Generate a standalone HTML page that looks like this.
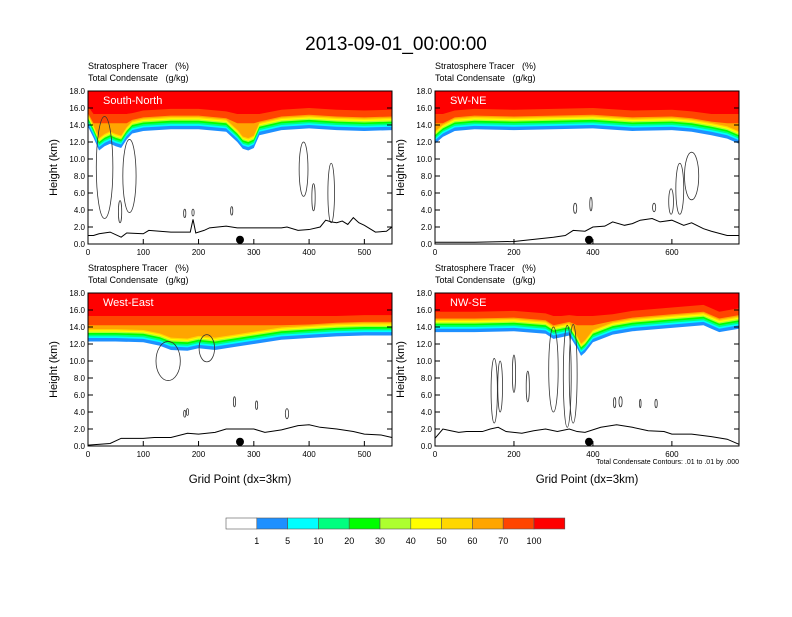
<!DOCTYPE html>
<html><head><meta charset="utf-8"><style>
body{margin:0;background:#fff;width:792px;height:612px;overflow:hidden;font-family:"Liberation Sans",sans-serif}
svg text{font-family:"Liberation Sans",sans-serif;white-space:pre}
</style></head><body>
<svg id="s" width="792" height="612" xmlns="http://www.w3.org/2000/svg">
<text x="396" y="50" font-size="19" text-anchor="middle">2013-09-01_00:00:00</text>
</svg>
<script>
// ---- data ----
const colors=["#ffffff","#1e90ff","#00ffff","#00ff7f","#00ff00","#adff2f","#ffff00","#ffd700","#ffa500","#ff4500","#ff0000"];
const cbLabels=["1","5","10","20","30","40","50","60","70","100"];
const titles=["South-North","SW-NE","West-East","NW-SE"];
const xMax=[550,770,550,770];
const xTicksA=[0,100,200,300,400,500];
const xTicksB=[0,200,400,600];
const yTicks=[0,2,4,6,8,10,12,14,16,18];
const gridA=[0,10,20,30,40,50,60,70,80,100,150,200,250,270,280,290,300,310,350,400,450,500,550];
const baseA=[13.8,12.5,11,11.5,11.8,11.5,11.3,12.3,13,13.3,13.5,13.5,13.2,12,11.2,11,11.3,12.8,13.4,13.6,13.4,13.3,13.4];
const gridB=[0,20,50,100,200,300,400,500,600,650,700,740,770];
const baseB=[11.8,12.6,13.3,13.5,13.4,13.5,13.6,13.3,13.4,13.2,12.8,12.4,11.8];
const gridC=[0,50,100,130,150,180,200,230,260,300,350,400,450,500,550];
const baseC=[12.3,12.3,12.2,11.8,11.3,11.2,11.5,11.3,11.6,12,12.5,12.7,12.9,13,13];
const gridD=[0,100,200,280,300,320,340,360,370,380,400,450,500,600,680,700,720,770];
const baseD=[13.4,13.4,13.5,13.2,12.6,12.8,13,11.5,10.6,11,12.2,13.1,13.5,13.9,14.2,13.8,13.4,13.8];
const terrA=[[0,1],[10,1],[20,1.2],[40,1.4],[60,0.8],[70,1.3],[100,1.2],[110,1.6],[150,1.4],[185,1.4],[190,2.9],[195,1.3],[210,1.6],[220,1.9],[250,2.1],[270,1.9],[300,1.9],[350,1.9],[360,2],[380,1.6],[400,1.7],[420,2],[430,2.8],[440,2.6],[450,2.5],[460,2.7],[470,2.3],[480,3.1],[490,2.5],[500,2.2],[520,1.4],[540,1.5],[550,2]];
const terrB=[[0,0.2],[100,0.2],[200,0.3],[300,0.8],[330,1],[350,1.6],[380,1.5],[400,2],[430,2.1],[450,2.6],[480,2.2],[500,2.4],[520,2.8],[550,3],[570,2.6],[600,2.8],[630,2.2],[650,2.5],[680,1.8],[700,1.5],[740,1],[770,1]];
const terrC=[[0,0.1],[40,0.3],[60,0.9],[100,0.9],[120,1],[150,1],[180,1.5],[200,1.4],[230,1.6],[250,2],[300,2],[320,1.6],[350,1.9],[380,2.4],[400,2.5],[420,2.2],[450,2],[480,1.7],[500,1.4],[530,1.3],[550,1]];
const terrD=[[0,0.9],[20,2],[40,1.8],[60,1.6],[80,1.7],[120,1.7],[140,2],[160,2.2],[180,1.7],[220,1.5],[250,1.8],[280,2],[310,1.7],[340,2],[360,1.7],[380,1.6],[420,2.2],[460,2.5],[500,2.2],[540,1.8],[580,1.7],[600,1.4],[650,1.4],[700,1.1],[740,0.8],[770,0.2]];
const dotX=[275,390,275,390];
const contP=[0,0,0,0,0,0,0,0,0,1,1,1,1,1,1,2,2,2,2,2,2,2,3,3,3,3,3,3,3,3,3,3,3];
const contX=[30,75,58,175,190,260,390,408,440,650,620,598,555,355,395,145,215,175,180,265,360,305,150,165,200,235,300,335,350,455,470,520,560];
const contZ=[9,8,3.8,3.6,3.7,3.9,8.8,5.5,6,8,6.5,5,4.3,4.2,4.7,10,11.5,3.8,4,5.2,3.8,4.8,6.5,7,8.5,7,9,8.2,8.5,5.1,5.2,5,5];
const contW=[15,12,3,2,2,2,8,3,6,18,10,6,4,4,3,22,14,2,2,2,3,2,8,6,4,4,12,10,10,3,4,2,3];
const contH=[6,4.3,1.3,0.5,0.4,0.5,3.2,1.6,3.5,2.8,3,1.5,0.5,0.6,0.8,2.3,1.6,0.4,0.4,0.6,0.6,0.5,3.8,3,2.2,1.8,5,6,5.8,0.6,0.6,0.5,0.5];
// ---- layout ----
const panels=[{x0:88,y0:91,grid:gridA,base:baseA,terr:terrA,ticks:xTicksA},
 {x0:435,y0:91,grid:gridB,base:baseB,terr:terrB,ticks:xTicksB},
 {x0:88,y0:293,grid:gridC,base:baseC,terr:terrC,ticks:xTicksA},
 {x0:435,y0:293,grid:gridD,base:baseD,terr:terrD,ticks:xTicksB}];
const W=304,H=153,NS="http://www.w3.org/2000/svg",svg=document.getElementById('s');
const offs=[0,0.4,0.6,0.8,1.0,1.15,1.3,1.45,1.6,2.4];
const floors=[0,0,0,0,0,0,0,0,14.2,15.3];
function mk(t,a,p){const e=document.createElementNS(NS,t);for(const k in a)e.setAttribute(k,a[k]);(p||svg).appendChild(e);return e;}
panels.forEach((P,i)=>{
 const g=mk('g',{});
 
 
 const sx=v=>P.x0+v/xMax[i]*W, sy=v=>P.y0+H-v/18*H;
 mk('text',{x:P.x0,y:P.y0-22,'font-size':9},g).textContent="Stratosphere Tracer   (%)";
 mk('text',{x:P.x0,y:P.y0-10,'font-size':9},g).textContent="Total Condensate   (g/kg)";
 mk('rect',{x:P.x0,y:P.y0,width:W,height:H,fill:'#fff'},g);
 for(let b=0;b<offs.length;b++){
   let pts=P.grid.map((x,j)=>sx(x)+','+sy(Math.min(18,Math.max(floors[b],P.base[j]+offs[b])))).join(' ');
   pts+=' '+sx(xMax[i])+','+P.y0+' '+P.x0+','+P.y0;
   const poly=mk('polygon',{points:pts,fill:colors[b+1]},g);
   
   
 }
 contP.forEach((p,k)=>{ if(p!==i) return;
   const e=mk('ellipse',{cx:sx(contX[k]),cy:sy(contZ[k]),rx:contW[k]/xMax[i]*W,ry:contH[k]/18*H,fill:'none',stroke:'#333','stroke-width':0.8},g);
   
   
 });
 const tl=mk('polyline',{points:P.terr.map(p=>sx(p[0])+','+sy(p[1])).join(' '),fill:'none',stroke:'#000','stroke-width':1},g);
 
 
 const d=mk('circle',{cx:sx(dotX[i]),cy:sy(0.5),r:4,fill:'#000'},g);
 
 
 mk('text',{x:P.x0+15,y:P.y0+13,'font-size':11,fill:'#fff'},g).textContent=titles[i];
 mk('rect',{x:P.x0,y:P.y0,width:W,height:H,fill:'none',stroke:'#000'},g);
 yTicks.forEach(v=>{const y=sy(v);
  mk('line',{x1:P.x0,x2:P.x0+5,y1:y,y2:y,stroke:'#000'},g);
  mk('line',{x1:P.x0+W-5,x2:P.x0+W,y1:y,y2:y,stroke:'#000'},g);
  mk('text',{x:P.x0-3,y:y+3,'font-size':8,'text-anchor':'end'},g).textContent=v.toFixed(1);});
 P.ticks.forEach(v=>{const x=sx(v);
  mk('line',{x1:x,x2:x,y1:P.y0+H,y2:P.y0+H-5,stroke:'#000'},g);
  mk('text',{x:x,y:P.y0+H+11,'font-size':8,'text-anchor':'middle'},g).textContent=v;});
 const yl=mk('text',{x:0,y:0,'font-size':11,'text-anchor':'middle',transform:`translate(${P.x0-31},${P.y0+H/2}) rotate(-90)`},g);
 yl.textContent="Height (km)";
});
[[240],[587]].forEach((c,k)=>{const t=mk('text',{x:c[0],y:483,'font-size':11.5,'text-anchor':'middle'});t.textContent="Grid Point (dx=3km)";
 });
const ci=mk('text',{x:739,y:464,'font-size':7,'text-anchor':'end'});ci.textContent="Total Condensate Contours: .01 to .01 by .000";

const cb=mk('g',{});


const bw=30.8;
colors.forEach((c,k)=>mk('rect',{x:226+k*bw,y:518,width:bw,height:11,fill:c,stroke:'#555','stroke-width':0.6},cb));
cbLabels.forEach((l,k)=>mk('text',{x:226+(k+1)*bw,y:544,'font-size':9,'text-anchor':'middle'},cb).textContent=l);
</script>
</body></html>
